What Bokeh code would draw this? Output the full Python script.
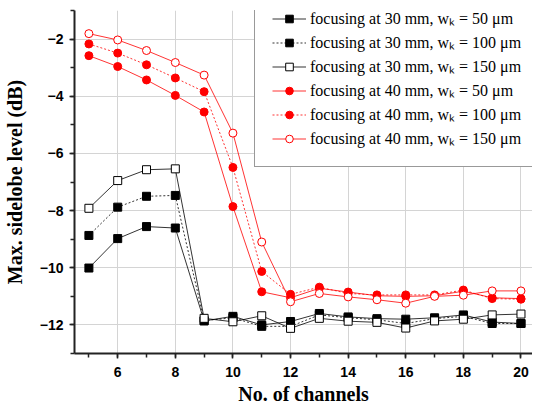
from bokeh.plotting import figure
from bokeh.models import Range1d, SingleIntervalTicker, Legend, LegendItem
from bokeh.embed import file_html
from bokeh.resources import INLINE

channels = list(range(5, 21))
f30_w50 = [-10.01, -8.98, -8.56, -8.61, -11.86, -11.70, -12.00, -11.88, -11.60, -11.72, -11.78, -11.80, -11.75, -11.65, -11.90, -11.95]
f30_w100 = [-8.87, -7.88, -7.50, -7.47, -11.85, -11.75, -12.05, -12.05, -11.65, -11.75, -11.82, -11.95, -11.78, -11.70, -11.95, -11.95]
f30_w150 = [-7.92, -6.95, -6.57, -6.54, -11.77, -11.89, -11.68, -12.12, -11.77, -11.87, -11.91, -12.11, -11.86, -11.80, -11.65, -11.62]
f40_w50 = [-2.58, -2.96, -3.43, -3.97, -4.55, -7.86, -10.84, -11.05, -10.72, -10.85, -10.98, -11.00, -10.98, -10.82, -11.05, -11.08]
f40_w100 = [-2.17, -2.49, -2.90, -3.36, -3.84, -6.49, -10.13, -10.93, -10.68, -10.90, -10.95, -10.95, -10.95, -10.78, -11.08, -11.10]
f40_w150 = [-1.81, -2.03, -2.40, -2.82, -3.26, -5.29, -9.10, -11.19, -10.90, -11.02, -11.12, -11.24, -11.00, -10.96, -10.81, -10.81]

labels = [
    "focusing at 30 mm, w\u2096 = 50 \u03bcm",
    "focusing at 30 mm, w\u2096 = 100 \u03bcm",
    "focusing at 30 mm, w\u2096 = 150 \u03bcm",
    "focusing at 40 mm, w\u2096 = 50 \u03bcm",
    "focusing at 40 mm, w\u2096 = 100 \u03bcm",
    "focusing at 40 mm, w\u2096 = 150 \u03bcm",
]

p = figure(width=532, height=407, output_backend="svg", toolbar_location=None,
           x_range=Range1d(4.5, 20.4), y_range=Range1d(-13, -1),
           min_border_left=67, min_border_right=0, min_border_top=10, min_border_bottom=53)
p.outline_line_color = None
p.background_fill_color = "white"

for ax in (p.xaxis[0], p.yaxis[0]):
    ax.ticker = SingleIntervalTicker(interval=2, num_minor_ticks=2)
    ax.axis_line_width = 2
    ax.axis_line_color = "#222222"
    ax.major_tick_line_color = "#222222"
    ax.minor_tick_line_color = "#222222"
    ax.major_tick_line_width = 1.5
    ax.minor_tick_line_width = 1.5
    ax.major_tick_in = 0
    ax.major_tick_out = 5
    ax.minor_tick_in = 0
    ax.minor_tick_out = 4
    ax.major_label_text_font = "Liberation Sans"
    ax.major_label_text_font_style = "bold"
    ax.major_label_text_font_size = "14px"
    ax.major_label_text_color = "black"
    ax.major_label_text_line_height = 1.0
    ax.axis_label_text_font = "Liberation Serif"
    ax.axis_label_text_font_style = "bold"
    ax.axis_label_text_font_size = "20px"
    ax.axis_label_text_color = "black"
    ax.axis_label_text_line_height = 1.0

p.xaxis.axis_label = "No. of channels"
p.yaxis.axis_label = "Max. sidelobe level (dB)"
p.xaxis.major_label_standoff = 8
p.yaxis.major_label_standoff = 6
p.xaxis.axis_label_standoff = 3
p.yaxis.axis_label_standoff = 11

p.xgrid.ticker = SingleIntervalTicker(interval=2)
p.ygrid.ticker = SingleIntervalTicker(interval=2)
p.grid.grid_line_color = "#d4d4d4"
p.grid.grid_line_width = 1

series = [
    (f30_w50, "black", "solid", "square", "black"),
    (f30_w100, "black", "2 2", "square", "black"),
    (f30_w150, "black", "solid", "square", "white"),
    (f40_w50, "red", "solid", "circle", "red"),
    (f40_w100, "red", "2 2", "circle", "red"),
    (f40_w150, "red", "solid", "circle", "white"),
]

items = []
for (ys, col, dash, marker, fill), lab in zip(series, labels):
    ln = p.line(channels, ys, line_color=col, line_width=1, line_dash=dash, line_alpha=0.8)
    sc = p.scatter(channels, ys, marker=marker, size=8, line_color=col, fill_color=fill, line_width=1)
    items.append(LegendItem(label=lab, renderers=[ln, sc]))

legend = Legend(items=items, location=(180, 186))
legend.label_text_font = "Liberation Serif"
legend.label_text_font_size = "16px"
legend.label_text_color = "black"
legend.border_line_color = "#333333"
legend.border_line_width = 1
legend.background_fill_color = "white"
legend.background_fill_alpha = 1
legend.padding = 17
legend.spacing = 2
legend.label_height = 19
legend.glyph_height = 19
legend.glyph_width = 34
legend.label_standoff = 4
legend.margin = 0
p.add_layout(legend)

open("out.html", "w").write(file_html(p, INLINE))
